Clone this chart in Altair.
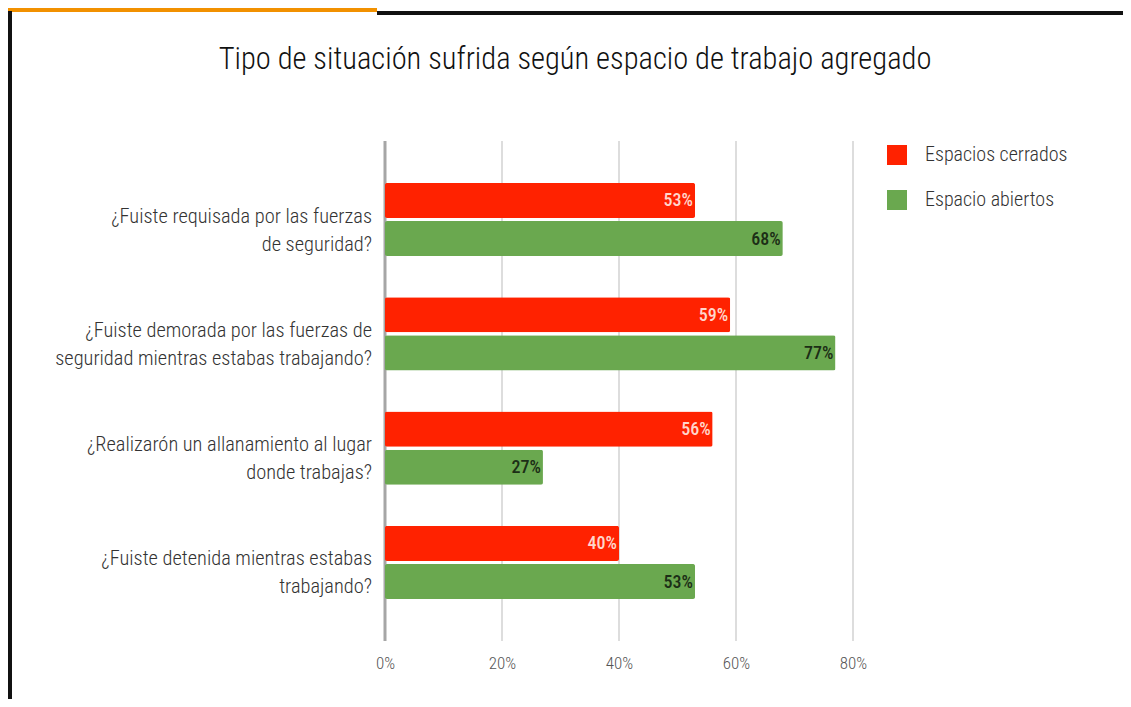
import altair as alt
import pandas as pd

categorias = [
    "¿Fuiste requisada por las fuerzas\nde seguridad?",
    "¿Fuiste demorada por las fuerzas de\nseguridad mientras estabas trabajando?",
    "¿Realizarón un allanamiento al lugar\ndonde trabajas?",
    "¿Fuiste detenida mientras estabas\ntrabajando?",
]
series = ["Espacios cerrados", "Espacio abiertos"]
cerrados = [53, 59, 56, 40]
abiertos = [68, 77, 27, 53]
ticks = [0, 20, 40, 60, 80]
titulo = "Tipo de situación sufrida según espacio de trabajo agregado"

rows = []
for c, v1, v2 in zip(categorias, cerrados, abiertos):
    rows.append({"cat": c, "serie": series[0], "valor": v1, "etiqueta": f"{v1}%"})
    rows.append({"cat": c, "serie": series[1], "valor": v2, "etiqueta": f"{v2}%"})
df = pd.DataFrame(rows)
cats_df = pd.DataFrame({"cat": categorias})

FONT = "Roboto Condensed, Liberation Sans Narrow, Arial Narrow, Roboto, sans-serif"
W, H = 468, 500

yscale = alt.Scale(domain=categorias, paddingInner=0.36, paddingOuter=0.367)
xscale = alt.Scale(domain=[0, 80], nice=False)

one = alt.Data(values=[{}])

orange = alt.Chart(one).mark_rect(color="#f29100").encode(
    x=alt.value(-377), x2=alt.value(-8), y=alt.value(-133), y2=alt.value(-129))
top_line = alt.Chart(one).mark_rect(color="#111111").encode(
    x=alt.value(-8), x2=alt.value(738), y=alt.value(-130), y2=alt.value(-126))
left_line = alt.Chart(one).mark_rect(color="#111111").encode(
    x=alt.value(-377), x2=alt.value(-373), y=alt.value(-130), y2=alt.value(560))

title = alt.Chart(one).mark_text(
    text=titulo, font=FONT, fontSize=30.5, fontWeight=300, color="#111111",
    align="center", baseline="middle"
).encode(x=alt.value(190), y=alt.value(-81))

grid = alt.Chart(pd.DataFrame({"t": ticks})).mark_rule(color="#dddddd", strokeWidth=2).encode(
    x=alt.X("t:Q", scale=xscale,
            axis=alt.Axis(values=ticks, labelExpr="datum.value + '%'", grid=False, domain=False,
                          ticks=False, labelFont=FONT, labelFontSize=17, labelFontWeight=300,
                          labelColor="#555555", labelFlush=False,
                          labelPadding=14, title=None)),
    y=alt.value(0), y2=alt.value(H))

zero = alt.Chart(one).mark_rule(color="#a6a6a6", strokeWidth=3).encode(
    x=alt.value(0), y=alt.value(0), y2=alt.value(H))

bars = alt.Chart(df).mark_bar(cornerRadius=2).encode(
    y=alt.Y("cat:N", scale=yscale, axis=None, sort=categorias),
    yOffset=alt.YOffset("serie:N", sort=series, scale=alt.Scale(paddingInner=0.08)),
    x=alt.X("valor:Q", scale=xscale),
    color=alt.Color("serie:N", sort=series,
                    scale=alt.Scale(domain=series, range=["#ff2200", "#6aa84f"]),
                    legend=alt.Legend(title=None, orient="none", legendX=502, legendY=4,
                                      symbolType="square", symbolSize=400, symbolStrokeWidth=0,
                                      labelFont=FONT, labelFontSize=20, labelFontWeight=300,
                                      labelColor="#333333",
                                      labelOffset=18, rowPadding=25, padding=0)),
)

labels = alt.Chart(df).mark_text(
    align="right", baseline="middle", dx=-2, dy=1, font=FONT, fontSize=18, fontWeight=500
).encode(
    y=alt.Y("cat:N", scale=yscale, sort=categorias),
    yOffset=alt.YOffset("serie:N", sort=series, scale=alt.Scale(paddingInner=0.08)),
    x=alt.X("valor:Q", scale=xscale),
    text="etiqueta:N",
    color=alt.condition(alt.datum.serie == series[0], alt.value("#ffd6cc"), alt.value("#1c2e16")),
)

ylabels = alt.Chart(cats_df).mark_text(
    align="right", baseline="middle", lineBreak="\n", lineHeight=28, font=FONT,
    fontSize=20.4, fontWeight=300, color="#333333", dx=-13, dy=-3
).encode(
    y=alt.Y("cat:N", scale=yscale, sort=categorias),
    x=alt.value(0),
    text="cat:N",
)

chart = alt.layer(orange, top_line, left_line, title, grid, zero, bars, labels, ylabels).properties(
    width=W, height=H,
    autosize=alt.AutoSizeParams(type="none"),
    padding={"left": 377, "top": 133, "right": 270, "bottom": 58},
    background="white",
).configure_view(stroke=None)

chart.save("out.html", embed_options={"renderer": "svg", "actions": False})
